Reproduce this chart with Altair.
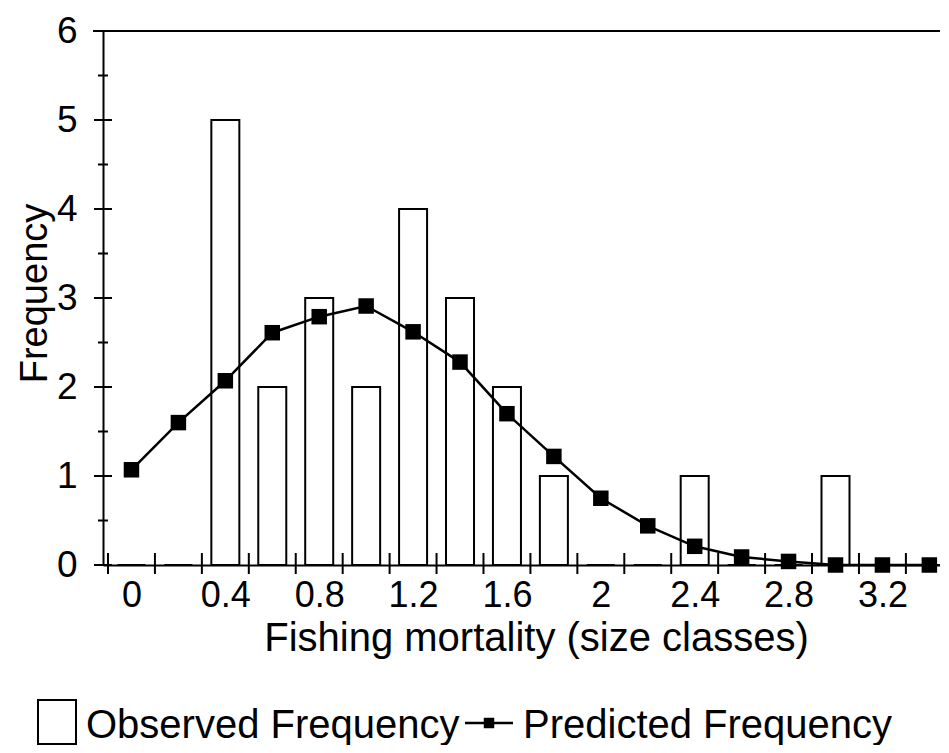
import altair as alt
import pandas as pd

# ---- data ----
size_class = [0, 0.2, 0.4, 0.6, 0.8, 1.0, 1.2, 1.4, 1.6, 1.8, 2.0, 2.2, 2.4, 2.6, 2.8, 3.0, 3.2, 3.4]
observed = [0, 0, 5, 2, 3, 2, 4, 3, 2, 1, 0, 0, 1, 0, 0, 1, 0, 0]
predicted = [1.07, 1.60, 2.07, 2.61, 2.79, 2.91, 2.62, 2.28, 1.70, 1.22, 0.75, 0.44, 0.21, 0.09, 0.04, 0.0, 0.0, 0.0]
x_labels = [0, 0.4, 0.8, 1.2, 1.6, 2, 2.4, 2.8, 3.2]
x_tick_marks = [-0.1, 0.1, 0.3, 0.5, 0.7, 0.9, 1.1, 1.3, 1.5, 1.7, 1.9, 2.1, 2.3, 2.5, 2.7, 2.9, 3.1, 3.3]
y_major = [0, 1, 2, 3, 4, 5, 6]
y_minor = [0.5, 1.5, 2.5, 3.5, 4.5, 5.5]
legend_labels = ["Observed Frequency", "Predicted Frequency"]
x_title = "Fishing mortality (size classes)"
y_title = "Frequency"

W, H = 837, 534
FONT = "Liberation Sans"

df = pd.DataFrame({"x": size_class, "obs": observed, "pred": predicted})
xticks_df = pd.DataFrame({"t": x_tick_marks})
ymaj_df = pd.DataFrame({"v": y_major})
ymin_df = pd.DataFrame({"v": y_minor})
one = pd.DataFrame({"a": [0]})

xscale = alt.Scale(domain=[-0.1, 3.424], nice=False, zero=False)
yscale = alt.Scale(domain=[0, 6], nice=False)

xaxis = alt.Axis(values=x_labels, format="~g", ticks=False, tickSize=0, grid=False,
                 domainColor="black", domainWidth=2, labelFont=FONT, labelFontSize=36,
                 labelColor="black", labelPadding=13, labelBaseline="top",
                 title=x_title, titleFont=FONT, titleFontSize=40, titleFontWeight="normal",
                 titleColor="black", titleX=433, titleY=85, titleBaseline="alphabetic",
                 titleAnchor="middle", labelFlush=False, labelOverlap=False)
yaxis = alt.Axis(values=y_major, format="d", ticks=False, tickSize=0, grid=False,
                 domainColor="black", domainWidth=2, labelFont=FONT, labelFontSize=37,
                 labelColor="black", labelPadding=26,
                 title=y_title, titleFont=FONT, titleFontSize=38, titleFontWeight="normal",
                 titleColor="black", titleAngle=270, titleBaseline="bottom", titleAlign="center",
                 titleX=-49, titleY=H / 2 - 5, labelFlush=False, labelOverlap=False)

base = alt.Chart(df)

bars = base.mark_bar(size=28, fill="white", stroke="black", strokeWidth=2).encode(
    x=alt.X("x:Q", scale=xscale, axis=xaxis),
    y=alt.Y("obs:Q", scale=yscale, axis=yaxis),
)
line = base.mark_line(color="black", strokeWidth=2.5).encode(
    x=alt.X("x:Q", scale=xscale), y=alt.Y("pred:Q", scale=yscale)
)
pts = base.mark_square(size=240, color="black", opacity=1).encode(
    x=alt.X("x:Q", scale=xscale), y=alt.Y("pred:Q", scale=yscale)
)

xticks = alt.Chart(xticks_df).mark_rule(color="black", strokeWidth=2).encode(
    x=alt.X("t:Q", scale=xscale), y=alt.value(H - 12), y2=alt.value(H + 9)
)
ymaj = alt.Chart(ymaj_df).mark_rule(color="black", strokeWidth=2).encode(
    y=alt.Y("v:Q", scale=yscale), x=alt.value(-9), x2=alt.value(9)
)
ymin = alt.Chart(ymin_df).mark_rule(color="black", strokeWidth=2).encode(
    y=alt.Y("v:Q", scale=yscale), x=alt.value(-5), x2=alt.value(5)
)
top_line = alt.Chart(one).mark_rule(color="black", strokeWidth=2).encode(
    y=alt.value(0), x=alt.value(-10), x2=alt.value(W)
)

# ---- manual legend below the chart ----
leg_box = alt.Chart(one).mark_rect(fill="white", stroke="black", strokeWidth=2).encode(
    x=alt.value(-65), x2=alt.value(-27), y=alt.value(669), y2=alt.value(713)
)
leg_t1 = alt.Chart(one).mark_text(align="left", baseline="alphabetic", font=FONT,
                                  fontSize=40, color="black", text=legend_labels[0]).encode(
    x=alt.value(-17), y=alt.value(707)
)
leg_line = alt.Chart(one).mark_rule(color="black", strokeWidth=2.5).encode(
    x=alt.value(362), x2=alt.value(410), y=alt.value(692)
)
leg_sq = alt.Chart(one).mark_square(size=110, color="black", opacity=1).encode(
    x=alt.value(386), y=alt.value(692)
)
leg_t2 = alt.Chart(one).mark_text(align="left", baseline="alphabetic", font=FONT,
                                  fontSize=40, color="black", text=legend_labels[1]).encode(
    x=alt.value(420), y=alt.value(707)
)

chart = alt.layer(
    bars, line, pts, xticks, ymaj, ymin, top_line,
    leg_box, leg_t1, leg_line, leg_sq, leg_t2
).properties(
    width=W, height=H,
    autosize=alt.AutoSizeParams(type="none"),
    padding={"left": 95, "top": 23, "right": 0, "bottom": 180},
    background="white",
).configure_view(stroke=None)

chart.save("out.html", embed_options={"renderer": "svg", "actions": False})
